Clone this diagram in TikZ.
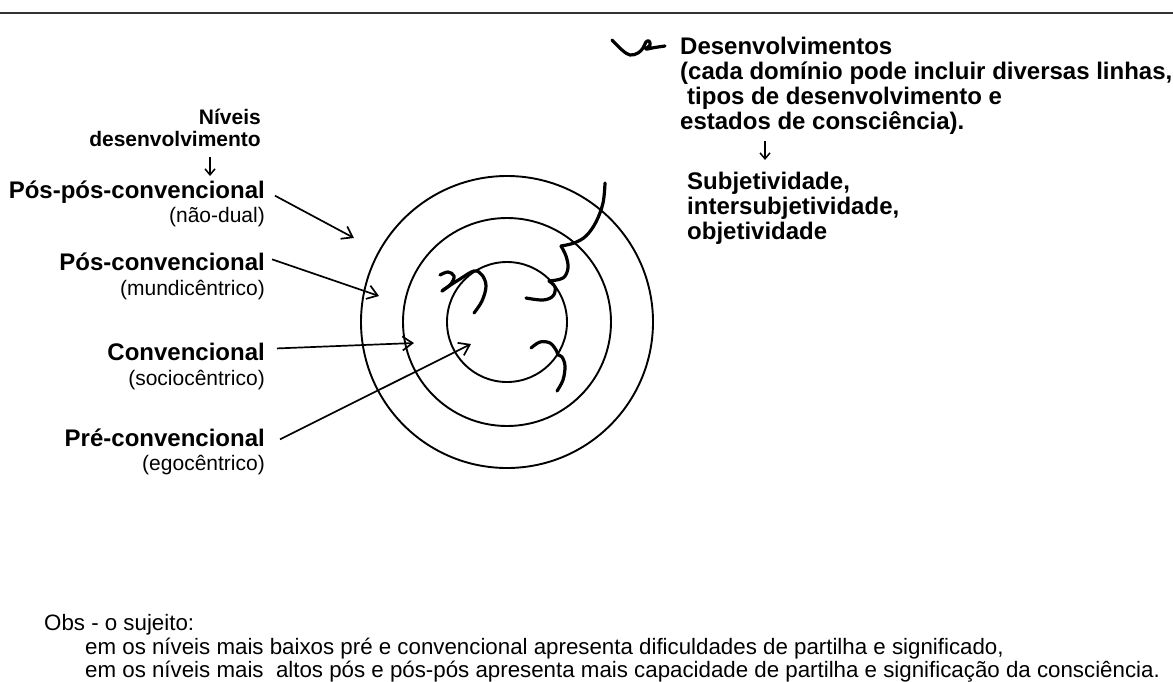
\documentclass[tikz,border=0pt]{standalone}
\usepackage{fontspec}
\setmainfont{Liberation Sans}
\usetikzlibrary{arrows.meta}
\usetikzlibrary{calc}

\tikzset{
  nivel/.style={anchor=base east, inner sep=0pt, font=\fontsize{24}{27}\selectfont\bfseries},
  titulo/.style={anchor=base east, inner sep=0pt, font=\fontsize{21}{23}\selectfont\bfseries},
  subnivel/.style={anchor=base east, inner sep=0pt, font=\fontsize{21}{24}\selectfont},
  bloco/.style={anchor=base west, inner sep=0pt, align=left, font=\fontsize{24}{24.7}\selectfont\bfseries},
  obs/.style={anchor=base west, inner sep=0pt, font=\fontsize{22.3}{24}\selectfont},
  seta/.style={line width=1.7pt, -{Straight Barb[length=10pt,width=14pt,line width=1.7pt]}},
  setinha/.style={line width=1.5pt, -{Straight Barb[length=6pt,width=10pt,line width=1.5pt]}},
  anel/.style={line width=1.9pt},
  rabisco/.style={line width=3.2pt, line cap=round, line join=round, smooth, tension=0.6},
}

\begin{document}
\begin{tikzpicture}[x=1pt,y=-1pt]
                \useasboundingbox (0,0) rectangle (1173,681);
                \draw[line width=2.5pt, black!80] (0,13) -- (1173,13);

                \coordinate (centro) at (507,322);
                \draw[anel] (centro) circle (146pt);
                \draw[anel] (centro) circle (104pt);
                \draw[anel] (centro) circle (60pt);

                \node[titulo] (niveis) at (261,124) {Níveis};
                \node[titulo] (niveisB) at (261,146) {desenvolvimento};
                \node[nivel] (pospos) at (265,198) {Pós-pós-convencional};
                \node[subnivel] (posposSub) at (265,222) {(não-dual)};
                \node[nivel] (pos) at (265,270) {Pós-convencional};
                \node[subnivel] (posSub) at (265,295) {(mundicêntrico)};
                \node[nivel] (conv) at (265,360) {Convencional};
                \node[subnivel] (convSub) at (265,385) {(sociocêntrico)};
                \node[nivel] (pre) at (265,446) {Pré-convencional};
                \node[subnivel] (preSub) at (265,470) {(egocêntrico)};

                \coordinate (alvoPosPos) at (354,238);
                \coordinate (alvoPos) at (379,296);
                \coordinate (alvoConv) at (414,343);
                \coordinate (alvoPre) at (471,344);
                \draw[seta] ([xshift=10pt,yshift=-4pt]pospos.east) -- (alvoPosPos);
                \draw[seta] ([xshift=7pt,yshift=2pt]pos.east) -- (alvoPos);
                \draw[seta] ([xshift=12pt,yshift=3pt]conv.east) -- (alvoConv);
                \draw[seta] ([xshift=15pt,yshift=-2pt]pre.east) -- (alvoPre);

                \coordinate (setaNiveisA) at (210,157);
                \coordinate (setaNiveisB) at (210,176);
                \draw[setinha] (setaNiveisA) -- (setaNiveisB);

                \node[bloco] (desenv) at (680,129) {Desenvolvimentos\\(cada domínio pode incluir diversas linhas,\\\hspace*{7pt}tipos de desenvolvimento e\\estados de consciência).};
                \coordinate (setaDesenvA) at (765,141);
                \coordinate (setaDesenvB) at (765,160);
                \draw[setinha] (setaDesenvA) -- (setaDesenvB);
                \node[bloco] (subj) at (687,239) {Subjetividade,\\intersubjetividade,\\objetividade};

                % rabiscos
                \draw[rabisco] plot coordinates {(612,40) (622,50) (630,55) (638,53) (643,48) (646,42) (649,41) (650,45) (646,49) (652,48) (658,47) (665,46)};
                \begin{scope}[shift={(0,-14)}]
                \draw[rabisco] plot coordinates {(605,197) (603,217) (596,236) (586,250) (574,257) (561,260)};
                \draw[rabisco] plot coordinates {(561,260) (566,270) (568,282) (563,292) (549,295)};
                \draw[rabisco] plot coordinates {(549,295) (555,301) (553,310) (543,314) (526,312)};
                \draw[rabisco] plot coordinates {(440,289) (448,286) (454,290) (451,298) (442,305)};
                \draw[rabisco] plot coordinates {(442,305) (446,302) (460,293) (474,285) (482,289) (486,300) (482,315) (474,327)};
                \draw[rabisco] plot coordinates {(531,362) (540,356) (550,357) (556,364) (558,369)};
                \draw[rabisco] plot coordinates {(558,369) (562,371) (565,380) (563,394) (557,405)};
                \end{scope}

                \node[obs] (obsA) at (44,630) {Obs - o sujeito:};
                \node[obs] (obsB) at (85,654) {em os níveis mais baixos pré e convencional apresenta dificuldades de partilha e significado,};
                \node[obs] (obsC) at (85,677) {em os níveis mais \ altos pós e pós-pós apresenta mais capacidade de partilha e significação da consciência.};
            \end{tikzpicture}
\end{document}
